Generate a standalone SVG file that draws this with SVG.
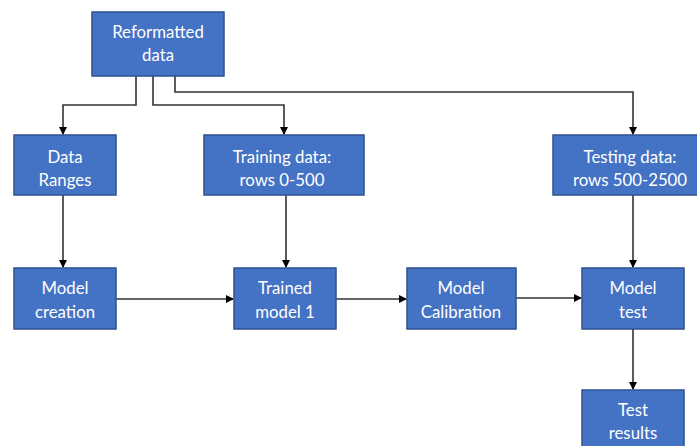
<svg xmlns="http://www.w3.org/2000/svg" width="697" height="446" viewBox="0 0 697 446">
<style>
.box{fill:#4472C4;stroke:#2F528F;stroke-width:1.5}
.t{font-family:Lato,"Liberation Sans",sans-serif;font-size:16.8px;fill:#ffffff;text-anchor:middle}
.c{fill:none;stroke:#333333;stroke-width:1.6}
</style>
<defs>
<marker id="ah" markerWidth="8" markerHeight="8" refX="7" refY="4" orient="auto" markerUnits="userSpaceOnUse">
<path d="M0,0 L8,4 L0,8 Z" fill="#000"/>
</marker>
</defs>
<rect width="697" height="446" fill="#ffffff"/>
<g id="connectors">
<path class="c" d="M136,76 V105 H63 V134" marker-end="url(#ah)"/>
<path class="c" d="M153,76 V105 H284 V134" marker-end="url(#ah)"/>
<path class="c" d="M175,76 V92 H633 V134" marker-end="url(#ah)"/>
<path class="c" d="M63,195 V267" marker-end="url(#ah)"/>
<path class="c" d="M286,195 V267" marker-end="url(#ah)"/>
<path class="c" d="M633,195 V267" marker-end="url(#ah)"/>
<path class="c" d="M116,299 H233" marker-end="url(#ah)"/>
<path class="c" d="M336,299 H406" marker-end="url(#ah)"/>
<path class="c" d="M516,298 H581" marker-end="url(#ah)"/>
<path class="c" d="M633,329 V389" marker-end="url(#ah)"/>
</g>
<g id="reformatted"><rect class="box" x="92" y="12" width="132" height="64"/><text class="t" x="158" y="38">Reformatted</text><text class="t" x="158" y="61">data</text></g>
<g id="dataranges"><rect class="box" x="14" y="135" width="102" height="60"/><text class="t" x="65" y="163">Data</text><text class="t" x="65" y="186">Ranges</text></g>
<g id="training"><rect class="box" x="204" y="135" width="160" height="60"/><text class="t" x="282" y="163">Training data:</text><text class="t" x="282" y="186">rows 0-500</text></g>
<g id="testing"><rect class="box" x="553" y="135" width="160" height="60"/><text class="t" x="630" y="163">Testing data:</text><text class="t" x="630" y="186">rows 500-2500</text></g>
<g id="modelcreation"><rect class="box" x="14" y="268" width="102" height="61"/><text class="t" x="65" y="294">Model</text><text class="t" x="65" y="318">creation</text></g>
<g id="trained"><rect class="box" x="234" y="268" width="102" height="61"/><text class="t" x="285" y="294">Trained</text><text class="t" x="285" y="318">model 1</text></g>
<g id="calibration"><rect class="box" x="407" y="268" width="109" height="61"/><text class="t" x="461" y="294">Model</text><text class="t" x="461" y="318">Calibration</text></g>
<g id="modeltest"><rect class="box" x="582" y="268" width="102" height="61"/><text class="t" x="633" y="294">Model</text><text class="t" x="633" y="318">test</text></g>
<g id="testresults"><rect class="box" x="582" y="390" width="102" height="60"/><text class="t" x="633" y="416">Test</text><text class="t" x="633" y="439">results</text></g>
</svg>
